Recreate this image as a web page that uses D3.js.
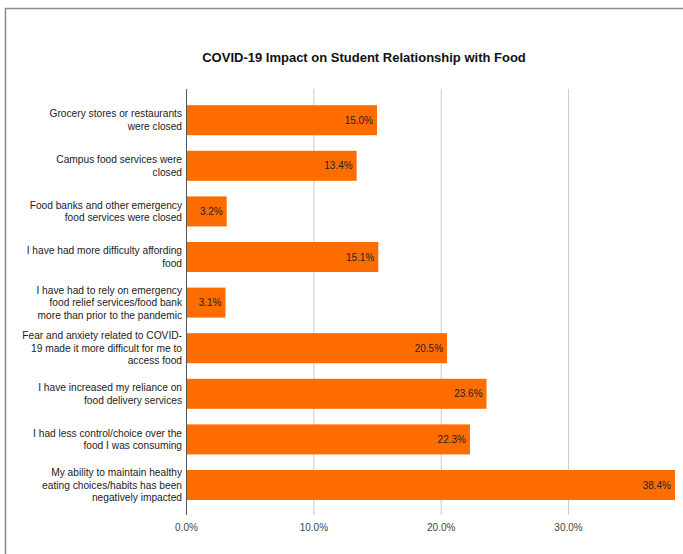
<!DOCTYPE html>
<html>
<head>
<meta charset="utf-8">
<script src="https://cdn.jsdelivr.net/npm/d3@7"></script>
<style>
  body { margin: 0; background: #fff; }
  text { font-family: Arial, "Liberation Sans", sans-serif; }
</style>
</head>
<body>
<svg class="chart"></svg>
<script>
const width = 683,
  height = 554;

const categories = [
  ["Grocery stores or restaurants", "were closed"],
  ["Campus food services were", "closed"],
  ["Food banks and other emergency", "food services were closed"],
  ["I have had more difficulty affording", "food"],
  ["I have had to rely on emergency", "food relief services/food bank", "more than prior to the pandemic"],
  ["Fear and anxiety related to COVID-", "19 made it more difficult for me to", "access food"],
  ["I have increased my reliance on", "food delivery services"],
  ["I had less control/choice over the", "food I was consuming"],
  ["My ability to maintain healthy", "eating choices/habits has been", "negatively impacted"]
];
const values = [15.0, 13.4, 3.2, 15.1, 3.1, 20.5, 23.6, 22.3, 38.4];
const ticks = [0, 10, 20, 30];
const title = "COVID-19 Impact on Student Relationship with Food";

const plotTop = 89, plotBottom = 515;

let x = d3.scaleLinear()
  .domain([0, 38.4])
  .range([186, 675]);
let y = d3.scaleBand()
  .domain(d3.range(values.length))
  .range([97.4, 507.8])
  .paddingInner(0.342)
  .paddingOuter(0.171);

let chart = d3.select(".chart")
  .attr("width", width)
  .attr("height", height);

// outer frame
chart.append("rect")
  .attr("x", 5.5)
  .attr("y", 8.5)
  .attr("width", 700)
  .attr("height", 600)
  .attr("fill", "none")
  .attr("stroke", "#8a8a8a")
  .attr("stroke-width", 1.5);

chart.append("text")
  .attr("x", 364)
  .attr("y", 62)
  .attr("text-anchor", "middle")
  .attr("font-size", 13)
  .attr("font-weight", "bold")
  .attr("fill", "#111")
  .text(title);

// gridlines
chart.append("g")
  .selectAll("line")
  .data(ticks.slice(1))
  .join("line")
  .attr("x1", d => x(d) + 0.5)
  .attr("x2", d => x(d) + 0.5)
  .attr("y1", plotTop)
  .attr("y2", plotBottom)
  .attr("stroke", "#cccccc");

let xAxis = d3.axisBottom(x)
  .tickValues(ticks)
  .tickSize(0)
  .tickPadding(9)
  .tickFormat(d => d.toFixed(1) + "%");
chart.append("g")
  .attr("transform", `translate(0, ${plotBottom})`)
  .call(xAxis)
  .call(g => g.select(".domain").remove())
  .selectAll("text")
  .attr("font-size", 10)
  .attr("fill", "#444");

// bars
chart.append("g")
  .selectAll("rect")
  .data(values)
  .join("rect")
  .attr("x", x(0))
  .attr("y", (d, i) => y(i))
  .attr("width", d => x(d) - x(0))
  .attr("height", y.bandwidth())
  .attr("fill", "#ff6d01");

chart.append("g")
  .selectAll("text")
  .data(values)
  .join("text")
  .attr("x", d => x(d) - 4)
  .attr("y", (d, i) => y(i) + y.bandwidth() / 2)
  .attr("dy", "0.35em")
  .attr("text-anchor", "end")
  .attr("font-size", 10)
  .attr("fill", "#222")
  .text(d => d.toFixed(1) + "%");

// axis line at zero
chart.append("line")
  .attr("x1", x(0) + 0.5)
  .attr("x2", x(0) + 0.5)
  .attr("y1", plotTop)
  .attr("y2", plotBottom)
  .attr("stroke", "#555");

// category labels
const lineH = 12.6;
chart.append("g")
  .selectAll("text")
  .data(categories)
  .join("text")
  .attr("text-anchor", "end")
  .attr("font-size", 10.2)
  .attr("fill", "#222")
  .each(function(lines, i) {
    const cy = y(i) + y.bandwidth() / 2;
    const y0 = cy - (lines.length - 1) * lineH / 2;
    d3.select(this).selectAll("tspan")
      .data(lines)
      .join("tspan")
      .attr("x", x(0) - 4)
      .attr("y", (d, j) => y0 + j * lineH)
      .attr("dy", "0.35em")
      .text(d => d);
  });
</script>
</body>
</html>
